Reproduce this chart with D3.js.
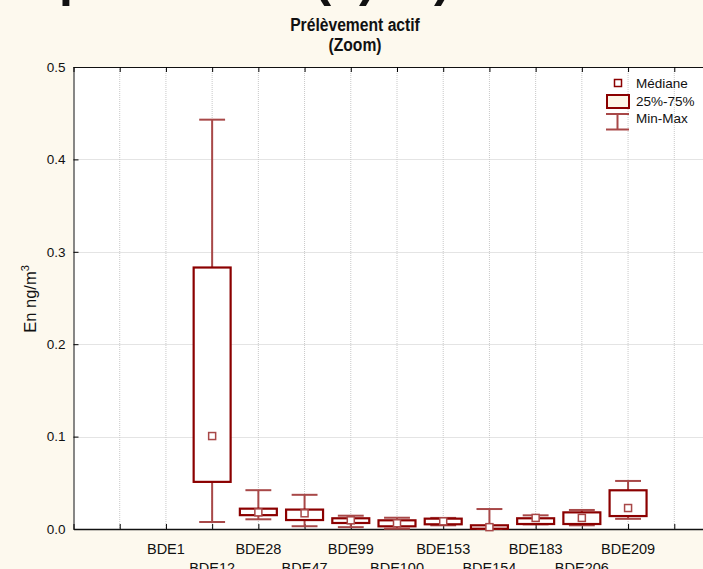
<!DOCTYPE html>
<html><head><meta charset="utf-8">
<script src="https://cdn.jsdelivr.net/npm/d3@7"></script>
<style>
html,body{margin:0;padding:0;background:#FDF9EE;}
svg{display:block;}
</style></head>
<body>
<script>
const categories = ["BDE1","BDE12","BDE28","BDE47","BDE99","BDE100","BDE153","BDE154","BDE183","BDE206","BDE209"];
const minValues    = [null, 0.0076, 0.0105, 0.0030, 0.0020, 0.0003, 0.0040, 0.0000, 0.0050, 0.0040, 0.0110];
const q1Values     = [null, 0.0510, 0.0150, 0.0097, 0.0065, 0.0029, 0.0051, 0.0003, 0.0054, 0.0054, 0.0140];
const medianValues = [null, 0.1006, 0.0180, 0.0170, 0.0094, 0.0062, 0.0083, 0.0020, 0.0120, 0.0120, 0.0227];
const q3Values     = [null, 0.2830, 0.0220, 0.0210, 0.0116, 0.0094, 0.0112, 0.0040, 0.0116, 0.0180, 0.0419];
const maxValues    = [null, 0.4430, 0.0420, 0.0370, 0.0144, 0.0122, 0.0120, 0.0216, 0.0148, 0.0206, 0.0520];
const yTicks = [0.0, 0.1, 0.2, 0.3, 0.4, 0.5];
const legendLabels = ["Médiane", "25%-75%", "Min-Max"];

const W = 703, H = 569;
const svg = d3.select("body").append("svg").attr("width", W).attr("height", H);
const font = "'Liberation Sans', Arial, sans-serif";
const dark = "#8B0000", light = "#A84848";

const offset = 2;
const x = d3.scaleLinear().domain([0, 14]).range([73.5, 720.5]);
const y = d3.scaleLinear().domain([0, 0.5]).range([529, 67]);

// plot background
svg.append("rect").attr("x", x(0)).attr("y", y(0.5)).attr("width", x(14) - x(0)).attr("height", y(0) - y(0.5)).attr("fill", "#fff");

// gridlines
const gx = d3.range(1, 14);
svg.append("g").selectAll("line").data(gx).join("line")
  .attr("x1", d => x(d)).attr("x2", d => x(d)).attr("y1", y(0.5)).attr("y2", y(0))
  .attr("stroke", "#c8c8c8").attr("stroke-width", 1).attr("stroke-dasharray", "1,1");
svg.append("g").selectAll("line").data(yTicks.slice(1, -1)).join("line")
  .attr("x1", x(0)).attr("x2", x(14)).attr("y1", d => Math.round(y(d)) + 0.5).attr("y2", d => Math.round(y(d)) + 0.5)
  .attr("stroke", "#c8c8c8").attr("stroke-width", 1).attr("stroke-dasharray", "1,1");

// axes
const yAxis = d3.axisLeft(y).tickValues(yTicks).tickFormat(d3.format(".1f")).tickSizeInner(-5).tickSizeOuter(0).tickPadding(8);
const ya = svg.append("g").attr("transform", `translate(${x(0)},0)`).call(yAxis);
ya.selectAll("text").attr("font-family", font).attr("font-size", 13.5).attr("fill", "#111");
ya.select(".domain").attr("stroke", "#111");

const xAxis = d3.axisBottom(x).tickValues(d3.range(0, 15)).tickSizeInner(-5).tickSizeOuter(0).tickFormat("");
const xa = svg.append("g").attr("transform", `translate(0,${y(0)})`).call(xAxis);
xa.select(".domain").attr("stroke", "#111").attr("stroke-width", 1.5);
const xTop = d3.axisTop(x).tickValues(d3.range(0, 15)).tickSizeInner(-5).tickSizeOuter(0).tickFormat("");
const xt = svg.append("g").attr("transform", `translate(0,${y(0.5)})`).call(xTop);
xt.select(".domain").attr("stroke", "#111");

// x labels (staggered; the second row is cut by the window edge as in the original)
svg.append("g").selectAll("text").data(categories).join("text")
  .attr("x", (d, i) => x(i + offset))
  .attr("y", (d, i) => i % 2 === 0 ? 554 : 573)
  .attr("text-anchor", "middle").attr("font-family", font).attr("font-size", 14.5).attr("fill", "#111")
  .text(d => d);

// boxes
const idx = d3.range(categories.length).filter(i => medianValues[i] !== null);
const bw = (x(1) - x(0)) * 0.8, cw = (x(1) - x(0)) * 0.56;
const g = svg.append("g");
idx.forEach(i => {
  const cx = x(i + offset);
  const wl = g.append("g").attr("stroke", light).attr("stroke-width", 2);
  wl.append("line").attr("x1", cx).attr("x2", cx).attr("y1", y(maxValues[i])).attr("y2", y(q3Values[i]));
  wl.append("line").attr("x1", cx).attr("x2", cx).attr("y1", y(q1Values[i])).attr("y2", y(minValues[i]));
  wl.append("line").attr("x1", cx - cw / 2).attr("x2", cx + cw / 2).attr("y1", y(maxValues[i])).attr("y2", y(maxValues[i]));
  wl.append("line").attr("x1", cx - cw / 2).attr("x2", cx + cw / 2).attr("y1", y(minValues[i])).attr("y2", y(minValues[i]));
  g.append("rect").attr("x", cx - bw / 2).attr("y", y(q3Values[i])).attr("width", bw)
    .attr("height", Math.max(1, y(q1Values[i]) - y(q3Values[i])))
    .attr("fill", "#fff").attr("stroke", dark).attr("stroke-width", 2.2);
  g.append("rect").attr("x", cx - 3.5).attr("y", y(medianValues[i]) - 3.5).attr("width", 7).attr("height", 7)
    .attr("fill", "#fff").attr("stroke", light).attr("stroke-width", 1.5);
});

// legend
const lg = svg.append("g");
lg.append("rect").attr("x", 614.5).attr("y", 79.5).attr("width", 7).attr("height", 7).attr("fill", "#fff").attr("stroke", dark).attr("stroke-width", 1.5);
lg.append("rect").attr("x", 607).attr("y", 95).attr("width", 22).attr("height", 13).attr("fill", "#FDF6E8").attr("stroke", dark).attr("stroke-width", 2);
lg.append("line").attr("x1", 606).attr("x2", 629).attr("y1", 114).attr("y2", 114).attr("stroke", light).attr("stroke-width", 2);
lg.append("line").attr("x1", 606).attr("x2", 629).attr("y1", 129.5).attr("y2", 129.5).attr("stroke", light).attr("stroke-width", 2);
lg.append("line").attr("x1", 617.5).attr("x2", 617.5).attr("y1", 114).attr("y2", 129.5).attr("stroke", light).attr("stroke-width", 2);
lg.selectAll("text").data(legendLabels).join("text")
  .attr("x", 636).attr("y", (d, i) => 88 + i * 17.5)
  .attr("font-family", font).attr("font-size", 13.5).attr("fill", "#111").text(d => d);

// y label
const yl = svg.append("text").attr("transform", "translate(36,299) rotate(-90)")
  .attr("text-anchor", "middle").attr("font-family", font).attr("font-size", 16.5).attr("fill", "#111");
yl.append("tspan").text("En ng/m");
yl.append("tspan").attr("dy", -7).attr("font-size", 11).text("3");

// titles (main title mostly above the window edge, as in the original crop)
svg.append("text").attr("x", -5).attr("y", -4).attr("font-family", font).attr("font-weight", "bold")
  .attr("font-size", 50).attr("fill", "#111").text("Répartition à (1) et)");

function condensed(txt, cy, factor) {
  const t = svg.append("text").attr("x", 355).attr("y", cy).attr("text-anchor", "middle").attr("font-family", font)
    .attr("font-weight", "bold").attr("font-size", 18).attr("fill", "#111").text(txt);
  const L = t.node().getComputedTextLength();
  t.attr("textLength", L * factor).attr("lengthAdjust", "spacingAndGlyphs");
}
condensed("Prélèvement actif", 31, 0.87);
condensed("(Zoom)", 51, 0.87);
</script>
</body></html>
